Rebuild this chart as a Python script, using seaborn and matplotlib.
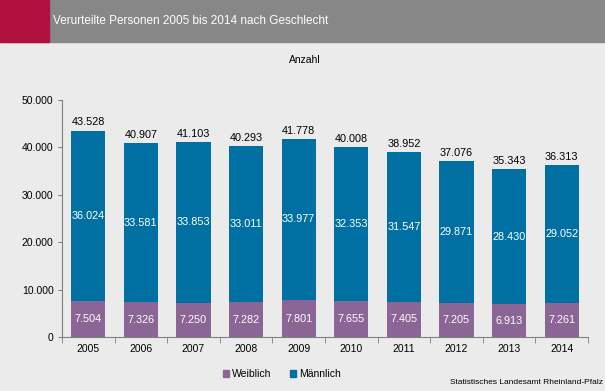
import matplotlib
matplotlib.use("Agg")
import matplotlib.pyplot as plt
import seaborn as sns
import pandas as pd
from matplotlib.patches import Rectangle, Patch
from matplotlib.ticker import FuncFormatter, FixedLocator

# ── Data ──────────────────────────────────────────────────────────────────────
years    = ["2005", "2006", "2007", "2008", "2009", "2010", "2011", "2012", "2013", "2014"]
weiblich = [7504, 7326, 7250, 7282, 7801, 7655, 7405, 7205, 6913, 7261]
maennlich = [36024, 33581, 33853, 33011, 33977, 32353, 31547, 29871, 28430, 29052]

_BG     = "#ebebeb"
_MALE   = "#0070a3"
_FEMALE = "#8b6595"
_HEAD   = "#878787"
_RED    = "#b0103d"

plt.rcParams["font.family"] = ["Liberation Sans", "DejaVu Sans"]


def de_num(v):
    return f"{int(v):,}".replace(",", ".")


df = pd.DataFrame({"Jahr": years, "Weiblich": weiblich, "Männlich": maennlich})
df["Gesamt"] = df["Weiblich"] + df["Männlich"]

fig = plt.figure(figsize=(6.05, 3.91), dpi=100, facecolor=_BG)
ax = fig.add_axes([62 / 605, (391 - 337) / 391, 526 / 605, 237 / 391])
ax.set_facecolor(_BG)

# header band
fig.patches.append(Rectangle((0, 1 - 42 / 391), 1, 42 / 391, transform=fig.transFigure,
                             color=_HEAD, zorder=0))
fig.patches.append(Rectangle((0, 1 - 42 / 391), 49 / 605, 42 / 391, transform=fig.transFigure,
                             color=_RED, zorder=1))
fig.text(53 / 605, 1 - 21 / 391, "Verurteilte Personen 2005 bis 2014 nach Geschlecht",
         color="white", fontsize=8.5, va="center", ha="left")
fig.text(305 / 605, 1 - 60 / 391, "Anzahl", fontsize=7.5, ha="center", va="center")

# stacked bars: total first (male colour), female on top of it
sns.barplot(data=df, x="Jahr", y="Gesamt", color=_MALE, width=0.65,
            saturation=1, ax=ax, zorder=2)
sns.barplot(data=df, x="Jahr", y="Weiblich", color=_FEMALE, width=0.65,
            saturation=1, ax=ax, zorder=3)

for i, row in df.iterrows():
    ax.text(i, row["Weiblich"] / 2, de_num(row["Weiblich"]), color="white",
            ha="center", va="center", fontsize=7.8, zorder=4)
    ax.text(i, row["Weiblich"] + row["Männlich"] / 2, de_num(row["Männlich"]),
            color="white", ha="center", va="center", fontsize=7.8, zorder=4)
    ax.text(i, row["Gesamt"] + 700, de_num(row["Gesamt"]), color="black",
            ha="center", va="bottom", fontsize=7.8, zorder=4)

ax.set_ylim(0, 50000)
ax.set_xlim(-0.5, len(years) - 0.5)
ax.yaxis.set_major_locator(FixedLocator(range(0, 50001, 10000)))
ax.yaxis.set_major_formatter(FuncFormatter(lambda v, p: de_num(v)))
ax.set_xlabel("")
ax.set_ylabel("")
for s in ["top", "right"]:
    ax.spines[s].set_visible(False)
for s in ["left", "bottom"]:
    ax.spines[s].set_color("#808080")
    ax.spines[s].set_linewidth(0.8)
ax.tick_params(axis="y", labelsize=7.5, length=3, color="#808080", pad=3)
ax.tick_params(axis="x", which="major", labelsize=7.5, length=0, pad=5)
ax.set_xticks([i + 0.5 for i in range(-1, len(years))], minor=True)
ax.tick_params(axis="x", which="minor", length=4, color="#808080")

handles = [Patch(color=_FEMALE, label="Weiblich"), Patch(color=_MALE, label="Männlich")]
fig.legend(handles=handles, loc="center", bbox_to_anchor=(282 / 605, 1 - 374 / 391),
           ncol=2, frameon=False, fontsize=7.5, handlelength=0.6, handleheight=0.6,
           handletextpad=0.3, columnspacing=1.8)
fig.text(603 / 605, 1 - 382 / 391, "Statistisches Landesamt Rheinland-Pfalz",
         fontsize=6, ha="right", va="center")

fig.savefig("out.png", dpi=100, facecolor=_BG)
